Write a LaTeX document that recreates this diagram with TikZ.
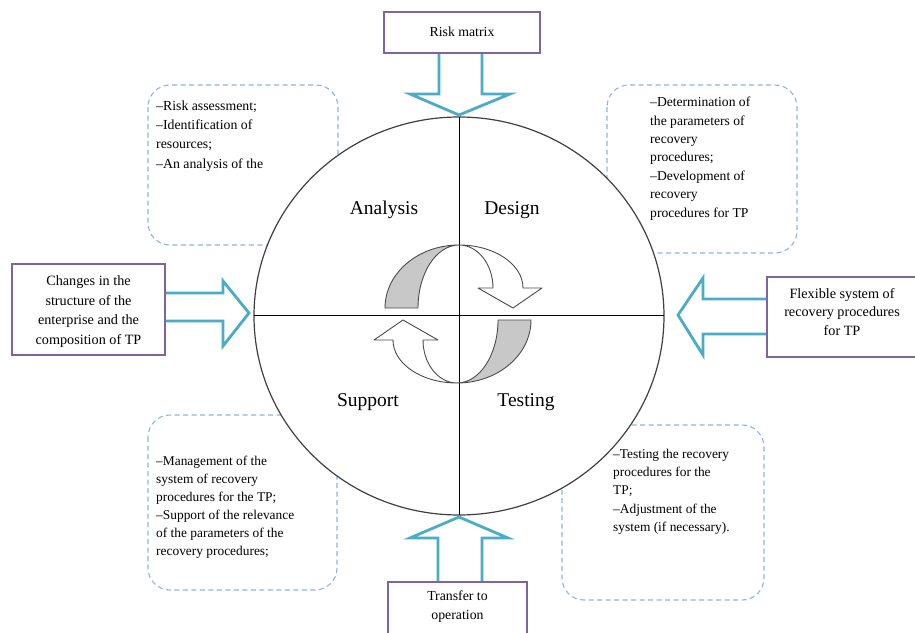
\documentclass[tikz,border=0pt]{standalone}
\usepackage{fontspec}
\setmainfont{Liberation Serif}
\definecolor{boxpurple}{HTML}{8064A2}
\definecolor{arrowcyan}{HTML}{4BACC6}
\definecolor{dashblue}{HTML}{8EB4E3}
\definecolor{ribbongray}{HTML}{C8C8C8}
\begin{document}
\begin{tikzpicture}[x=1pt,y=-1pt,
  pbox/.style={draw=boxpurple, line width=2.8pt, fill=white, inner sep=0pt},
  ptext/.style={inner sep=0pt, align=center, font=\fontsize{14.2}{19.5}\selectfont},
  barrow/.style={draw=arrowcyan, line width=2.8pt, fill=white, line join=miter},
  dbox/.style={draw=dashblue, line width=1.1pt, dash pattern=on 5pt off 3.5pt, rounded corners=22pt},
  btext/.style={inner sep=0pt, anchor=north west, align=left},
  qlabel/.style={inner sep=0pt, font=\fontsize{19.5}{22}\selectfont},
  ribbon/.style={draw=black!70, line width=0.9pt, line join=round},
]
\useasboundingbox (0,0) rectangle (915,632);
\fill[white] (0,0) rectangle (915,632);

% dashed description boxes
\draw[dbox] (148,85) rectangle (338,245);
\draw[dbox] (607,85) rectangle (797,253);
\draw[dbox] (148,415) rectangle (337,590);
\draw[dbox] (562,425) rectangle (764,600);

\node[btext, font=\fontsize{13.8}{19.3}\selectfont] (tltext) at (156,100.5)
  {–Risk assessment;\\–Identification of\\resources;\\–An analysis of the};
\node[btext, font=\fontsize{13.6}{18.4}\selectfont] (trtext) at (650,97)
  {–Determination of\\the parameters of\\recovery\\procedures;\\–Development of\\recovery\\procedures for TP};
\node[btext, font=\fontsize{13.4}{18}\selectfont] (bltext) at (156,456)
  {–Management of the\\system of recovery\\procedures for the TP;\\–Support of the relevance\\of the parameters of the\\recovery procedures;};
\node[btext, font=\fontsize{13.4}{18.2}\selectfont] (brtext) at (613,449)
  {–Testing the recovery\\procedures for the\\TP;\\–Adjustment of the\\system (if necessary).};

% main circle and cross
\draw[draw=black!75, line width=1.2pt, fill=white] (459,316) ellipse [x radius=205, y radius=199];
\draw[black, line width=1pt] (254,315) -- (664,315);
\draw[black, line width=1pt] (459,117) -- (459,515);

% cycle arrows (upper)
\draw[ribbon, fill=ribbongray] (459,245) arc[start angle=-90, end angle=-180, x radius=74, y radius=63]
  -- (418,308) arc[start angle=180, end angle=270, x radius=41, y radius=63] -- cycle;
\draw[ribbon, fill=white] (459,245) arc[start angle=-90, end angle=0, x radius=64, y radius=43]
  -- (542,288) -- (513,308) -- (478,288) -- (493,288)
  arc[start angle=0, end angle=-90, x radius=34, y radius=43] -- cycle;
% cycle arrows (lower)
\begin{scope}[rotate around={180:(457,314)}]
\draw[ribbon, fill=ribbongray] (457,245) arc[start angle=-90, end angle=-180, x radius=74, y radius=63]
  -- (416,308) arc[start angle=180, end angle=270, x radius=41, y radius=63] -- cycle;
\draw[ribbon, fill=white] (457,245) arc[start angle=-90, end angle=0, x radius=64, y radius=43]
  -- (540,288) -- (511,308) -- (476,288) -- (491,288)
  arc[start angle=0, end angle=-90, x radius=34, y radius=43] -- cycle;
\end{scope}

% quadrant labels
\node[qlabel] (analysis) at (384,210) {Analysis};
\node[qlabel] (design) at (512,210) {Design};
\node[qlabel] (support) at (368,402) {Support};
\node[qlabel] (testing) at (526,402) {Testing};

% block arrows
\draw[barrow] (439,53) -- (439,94) -- (410,94) -- (459,115) -- (510,94) -- (482,94) -- (482,53);
\draw[barrow] (438,582) -- (438,538) -- (410,538) -- (459,517) -- (508,538) -- (482,538) -- (482,582);
\draw[barrow] (165,293) -- (223,293) -- (223,281) -- (249,313) -- (223,346) -- (223,321) -- (165,321);
\draw[barrow] (767,299) -- (703,299) -- (703,278) -- (678,315) -- (703,355) -- (703,334) -- (767,334);

% input / output boxes
\node[pbox, minimum width=156pt, minimum height=41pt] (riskbox) at (462,32.5) {};
\node[ptext, font=\fontsize{13.8}{19}\selectfont] (risktext) at (462,32) {Risk matrix};
\node[pbox, minimum width=153pt, minimum height=91pt] (changebox) at (88.5,309.5) {};
\node[ptext] (changetext) at (88.5,311.5) {Changes in the\\structure of the\\enterprise and the\\composition of TP};
\node[pbox, minimum width=160pt, minimum height=80pt] (flexbox) at (847,317) {};
\node[ptext, font=\fontsize{14.2}{18.5}\selectfont] (flextext) at (842,312) {Flexible system of\\recovery procedures\\for TP};
\node[pbox, minimum width=139pt, minimum height=70pt] (transbox) at (457.5,617) {};
\node[ptext, font=\fontsize{13.8}{18.5}\selectfont] (transtext) at (457.5,606.5) {Transfer to\\operation};
\end{tikzpicture}
\end{document}
